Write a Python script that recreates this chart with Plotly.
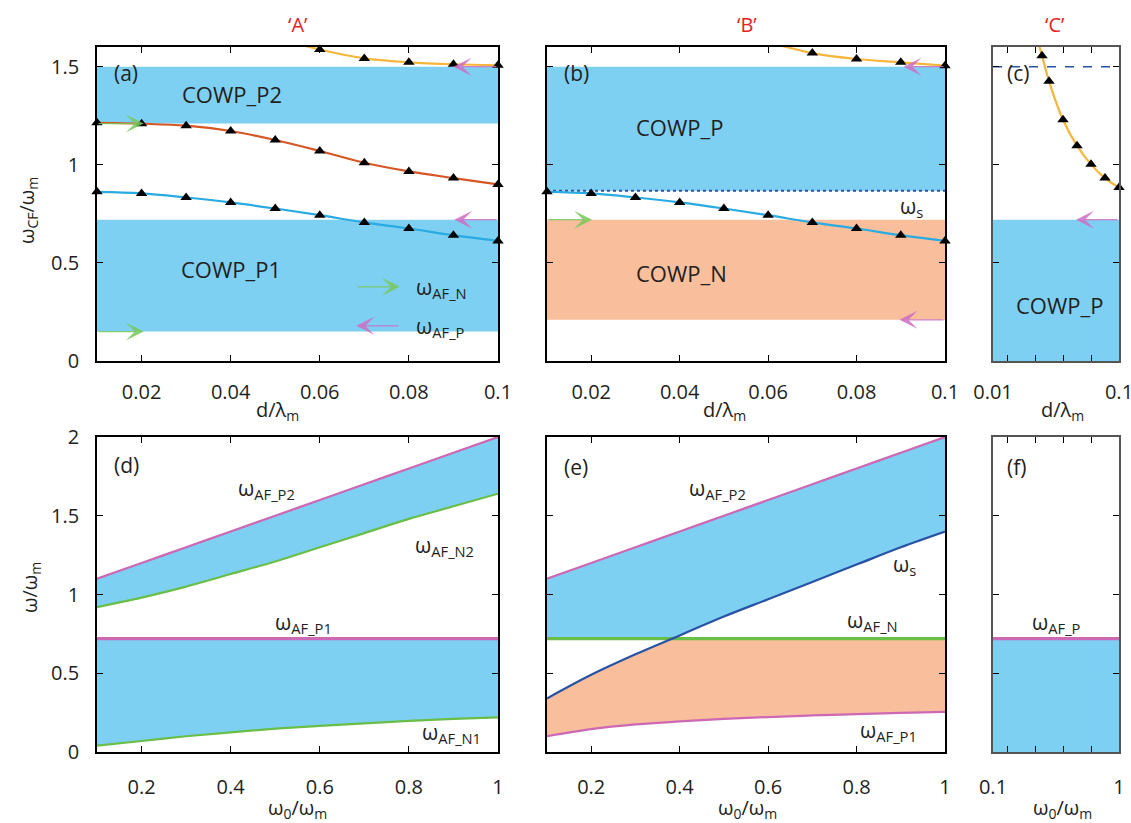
import numpy as np
import plotly.graph_objects as go

# ------------------------------------------------------------------ data
# top row: omega_CF / omega_m versus d / lambda_m
d_vals = [0.01, 0.02, 0.03, 0.04, 0.05, 0.06, 0.07, 0.08, 0.09, 0.10]
wcf_blue = [0.862, 0.854, 0.833, 0.808, 0.777, 0.743, 0.706, 0.675, 0.641, 0.612]
wcf_orange = [1.214, 1.209, 1.199, 1.172, 1.126, 1.070, 1.010, 0.966, 0.932, 0.900]

d_yellow_a = [0.05, 0.06, 0.07, 0.08, 0.09, 0.10]
wcf_yellow_a = [1.65, 1.587, 1.542, 1.522, 1.512, 1.507]
d_yellow_b = [0.06, 0.07, 0.08, 0.09, 0.10]
wcf_yellow_b = [1.625, 1.569, 1.539, 1.522, 1.505]
d_yellow_c = [0.04, 0.045, 0.05, 0.06, 0.07, 0.08, 0.09, 0.10]
wcf_yellow_c = [1.68, 1.556, 1.426, 1.229, 1.097, 1.002, 0.932, 0.884]

d_span = [0.01, 0.10]
band_a_P2 = [1.21, 1.50]
band_a_P1 = [0.15, 0.72]
band_b_P = [0.867, 1.50]
band_b_N = [0.21, 0.72]
band_c_P = [0.0, 0.72]
ws_b = 0.867
dash_c = 1.50

# arrows: (head_x, tail_x, level)
arrows_a_N = [(0.0205, 0.01, 1.21), (0.0205, 0.01, 0.15), (0.078, 0.0682, 0.378)]
arrows_a_P = [(0.090, 0.10, 1.50), (0.0902, 0.10, 0.72), (0.0682, 0.078, 0.179)]
arrows_b_N = [(0.0202, 0.01, 0.72)]
arrows_b_P = [(0.0906, 0.10, 1.50), (0.0897, 0.10, 0.21)]
arrows_c_P = [(0.0693, 0.10, 0.72)]

# bottom row: omega / omega_m versus omega_0 / omega_m
w0 = [0.1, 0.2, 0.3, 0.4, 0.5, 0.6, 0.7, 0.8, 0.9, 1.0]
w_AF_P2 = [1.10, 1.20, 1.30, 1.40, 1.50, 1.60, 1.70, 1.80, 1.90, 2.00]
w_AF_N2_d = [0.92, 0.98, 1.05, 1.13, 1.21, 1.30, 1.39, 1.48, 1.56, 1.64]
w_AF_P1_d = 0.72
w_AF_N1_d = [0.04, 0.07, 0.10, 0.125, 0.148, 0.166, 0.182, 0.197, 0.21, 0.22]
w_s_e = [0.34, 0.49, 0.62, 0.74, 0.86, 0.97, 1.08, 1.19, 1.30, 1.40]
w_AF_N_e = 0.72
w_AF_P1_e = [0.10, 0.145, 0.175, 0.195, 0.21, 0.222, 0.232, 0.241, 0.249, 0.255]
w_AF_P_f = 0.72
w0_span = [0.1, 1.0]

# ------------------------------------------------------------------ style
W, H = 1131, 823
FONT = "Open Sans"
TXT = "#231f20"
C_BAND = "rgb(126,208,243)"
C_SALMON = "rgb(249,190,156)"
C_BLUE = "rgb(41,171,226)"
C_ORANGE = "rgb(214,86,36)"
C_YELLOW = "rgb(246,182,60)"
C_MAG = "rgb(204,104,180)"
C_GREEN = "rgb(104,190,70)"
C_DBLUE = "rgb(40,82,164)"
C_RED = "rgb(232,30,38)"
A_GREEN = "rgba(120,200,90,0.85)"
A_MAG = "rgba(205,110,195,0.85)"

fig = go.Figure()


def px_x(a, b):
    return [a / W, b / W]


def px_y(top, bottom):
    return [1 - bottom / H, 1 - top / H]


def band(xr, yr, xs, lo, hi, color):
    fig.add_trace(go.Scatter(x=[xs[0], xs[1], xs[1], xs[0]], y=[lo, lo, hi, hi],
                             fill="toself", fillcolor=color, mode="none",
                             xaxis=xr, yaxis=yr, hoverinfo="skip"))


def poly(xr, yr, xs, ys, color):
    fig.add_trace(go.Scatter(x=xs, y=ys, fill="toself", fillcolor=color, mode="none",
                             xaxis=xr, yaxis=yr, hoverinfo="skip"))


def line(xr, yr, xs, ys, color, width=2.2, dash="solid", shape="linear"):
    fig.add_trace(go.Scatter(x=xs, y=ys, mode="lines",
                             line=dict(color=color, width=width, dash=dash, shape=shape),
                             xaxis=xr, yaxis=yr, hoverinfo="skip"))


def curve_markers(xr, yr, xs, ys, color, ymax):
    xs = np.asarray(xs)
    ys = np.asarray(ys)
    line(xr, yr, xs, ys, color, shape="spline")
    m = ys <= ymax
    fig.add_trace(go.Scatter(x=xs[m], y=ys[m], mode="markers",
                             marker=dict(symbol="triangle-up", size=10, color="black"),
                             cliponaxis=False, xaxis=xr, yaxis=yr, hoverinfo="skip"))


def arrow(xr, yr, specs, color):
    for head, tail, lev in specs:
        fig.add_annotation(x=head, y=lev, ax=tail, ay=lev, xref=xr, yref=yr,
                           axref=xr, ayref=yr, showarrow=True, arrowhead=3,
                           arrowsize=2.5, arrowwidth=1.2, arrowcolor=color, text="")


def label(xr, yr, x, y, text, size=21, xanchor="center"):
    fig.add_annotation(x=x, y=y, xref=xr, yref=yr, text=text, showarrow=False,
                       xanchor=xanchor, yanchor="middle",
                       font=dict(family=FONT, size=size, color=TXT))


# ---------------- panel (a)
band("x", "y", d_span, band_a_P2[0], band_a_P2[1], C_BAND)
band("x", "y", d_span, band_a_P1[0], band_a_P1[1], C_BAND)
curve_markers("x", "y", d_yellow_a, wcf_yellow_a, C_YELLOW, 1.6)
curve_markers("x", "y", d_vals, wcf_orange, C_ORANGE, 1.6)
curve_markers("x", "y", d_vals, wcf_blue, C_BLUE, 1.6)
arrow("x", "y", arrows_a_N, A_GREEN)
arrow("x", "y", arrows_a_P, A_MAG)
label("x", "y", 0.0164, 1.47, "(a)")
label("x", "y", 0.0402, 1.36, "COWP_P2", 22)
label("x", "y", 0.040, 0.471, "COWP_P1", 22)
label("x", "y", 0.0812, 0.37, "ω<sub>AF_N</sub>", 21, "left")
label("x", "y", 0.0812, 0.175, "ω<sub>AF_P</sub>", 21, "left")

# ---------------- panel (b)
band("x2", "y2", d_span, band_b_P[0], band_b_P[1], C_BAND)
band("x2", "y2", d_span, band_b_N[0], band_b_N[1], C_SALMON)
line("x2", "y2", d_span, [ws_b, ws_b], C_DBLUE, width=2, dash="dot")
curve_markers("x2", "y2", d_yellow_b, wcf_yellow_b, C_YELLOW, 1.6)
curve_markers("x2", "y2", d_vals, wcf_blue, C_BLUE, 1.6)
arrow("x2", "y2", arrows_b_N, A_GREEN)
arrow("x2", "y2", arrows_b_P, A_MAG)
label("x2", "y2", 0.0167, 1.47, "(b)")
label("x2", "y2", 0.040, 1.194, "COWP_P", 22)
label("x2", "y2", 0.0405, 0.449, "COWP_N", 22)
label("x2", "y2", 0.0893, 0.785, "ω<sub>s</sub>", 21, "left")

# ---------------- panel (c)
band("x3", "y3", d_span, band_c_P[0], band_c_P[1], C_BAND)
line("x3", "y3", d_span, [dash_c, dash_c], C_DBLUE, width=1.5, dash="dash")
curve_markers("x3", "y3", d_yellow_c, wcf_yellow_c, C_YELLOW, 1.6)
arrow("x3", "y3", arrows_c_P, A_MAG)
label("x3", "y3", 0.0282, 1.465, "(c)")
label("x3", "y3", 0.0577, 0.285, "COWP_P", 22)

# ---------------- panel (d)
w0a = np.asarray(w0)
poly("x4", "y4", list(w0a) + list(w0a[::-1]), list(w_AF_N2_d) + list(w_AF_P2[::-1]), C_BAND)
poly("x4", "y4", list(w0a) + list(w0a[::-1]),
     list(w_AF_N1_d) + [w_AF_P1_d] * len(w0), C_BAND)
line("x4", "y4", w0, w_AF_P2, C_MAG, shape="spline")
line("x4", "y4", w0, w_AF_N2_d, C_GREEN, shape="spline")
line("x4", "y4", w0_span, [w_AF_P1_d, w_AF_P1_d], C_MAG, width=3.2)
line("x4", "y4", w0, w_AF_N1_d, C_GREEN, shape="spline")
label("x4", "y4", 0.167, 1.82, "(d)")
label("x4", "y4", 0.481, 1.67, "ω<sub>AF_P2</sub>")
label("x4", "y4", 0.879, 1.31, "ω<sub>AF_N2</sub>")
label("x4", "y4", 0.563, 0.82, "ω<sub>AF_P1</sub>")
label("x4", "y4", 0.895, 0.12, "ω<sub>AF_N1</sub>")

# ---------------- panel (e)
ws = np.asarray(w_s_e)
xc = float(np.interp(w_AF_N_e, ws, w0a))
left = w0a < xc
right = w0a > xc
x_mid = list(w0a[left]) + [xc] + list(w0a[right])
y_blue_lo = [w_AF_N_e] * int(left.sum()) + [w_AF_N_e] + list(ws[right])
y_sal_hi = list(ws[left]) + [w_AF_N_e] + [w_AF_N_e] * int(right.sum())
poly("x5", "y5", x_mid + list(w0a[::-1]), y_blue_lo + list(w_AF_P2[::-1]), C_BAND)
poly("x5", "y5", x_mid + list(w0a[::-1]), y_sal_hi + list(w_AF_P1_e[::-1]), C_SALMON)
line("x5", "y5", w0, w_AF_P2, C_MAG, shape="spline")
line("x5", "y5", w0_span, [w_AF_N_e, w_AF_N_e], C_GREEN, width=3.2)
line("x5", "y5", w0, w_s_e, C_DBLUE, shape="spline")
line("x5", "y5", w0, w_AF_P1_e, C_MAG, shape="spline")
label("x5", "y5", 0.165, 1.81, "(e)")
label("x5", "y5", 0.486, 1.67, "ω<sub>AF_P2</sub>")
label("x5", "y5", 0.909, 1.185, "ω<sub>s</sub>")
label("x5", "y5", 0.835, 0.83, "ω<sub>AF_N</sub>")
label("x5", "y5", 0.872, 0.133, "ω<sub>AF_P1</sub>")

# ---------------- panel (f)
band("x6", "y6", w0_span, 0.0, w_AF_P_f, C_BAND)
line("x6", "y6", w0_span, [w_AF_P_f, w_AF_P_f], C_MAG, width=3.2)
label("x6", "y6", 0.269, 1.81, "(f)")
label("x6", "y6", 0.556, 0.817, "ω<sub>AF_P</sub>")

# ------------------------------------------------------------------ axes
def axis(domain, anchor, rng, tickvals, ticktext=None, labels=True, lc="black", standoff=10):
    d = dict(domain=domain, anchor=anchor, range=rng, showline=True, linecolor=lc,
             linewidth=1.6, mirror="ticks", ticks="inside", ticklen=6, tickwidth=1.2,
             tickcolor="black", showgrid=False, zeroline=False, tickvals=tickvals,
             showticklabels=labels, ticklabelstandoff=standoff, automargin=False,
             ticklabeloverflow="allow",
             tickfont=dict(family=FONT, size=20, color=TXT))
    if ticktext is not None:
        d["ticktext"] = ticktext
    return d


XA, XB, XC = px_x(97, 498), px_x(547, 945), px_x(993, 1119)
YT, YB = px_y(47, 361), px_y(437, 752)
xt_top = [0.02, 0.04, 0.06, 0.08, 0.1]
xt_topc = [0.01, 0.02, 0.04, 0.06, 0.08, 0.1]
xt_bot = [0.2, 0.4, 0.6, 0.8, 1.0]
xt_botf = [0.1, 0.2, 0.4, 0.6, 0.8, 1.0]
yt_top = [0, 0.5, 1, 1.5]
yt_bot = [0, 0.5, 1, 1.5, 2]

fig.update_layout(
    xaxis=axis(XA, "y", [0.01, 0.1], xt_top, ["0.02", "0.04", "0.06", "0.08", "0.1"], standoff=12),
    yaxis=axis(YT, "x", [0, 1.6], yt_top, ["0", "0.5", "1", "1.5"], standoff=12),
    xaxis2=axis(XB, "y2", [0.01, 0.1], xt_top, ["0.02", "0.04", "0.06", "0.08", "0.1"], standoff=12),
    yaxis2=axis(YT, "x2", [0, 1.6], yt_top, labels=False),
    xaxis3=axis(XC, "y3", [0.01, 0.1], xt_topc, ["0.01", "", "", "", "", "0.1"], lc="#555", standoff=12),
    yaxis3=axis(YT, "x3", [0, 1.6], yt_top, labels=False, lc="#555"),
    xaxis4=axis(XA, "y4", [0.1, 1.0], xt_bot, ["0.2", "0.4", "0.6", "0.8", "1"], standoff=16),
    yaxis4=axis(YB, "x4", [0, 2], yt_bot, ["0", "0.5", "1", "1.5", "2"], standoff=12),
    xaxis5=axis(XB, "y5", [0.1, 1.0], xt_bot, ["0.2", "0.4", "0.6", "0.8", "1"], standoff=16),
    yaxis5=axis(YB, "x5", [0, 2], yt_bot, labels=False),
    xaxis6=axis(XC, "y6", [0.1, 1.0], xt_botf, ["0.1", "", "", "", "", "1"], lc="#555", standoff=16),
    yaxis6=axis(YB, "x6", [0, 2], yt_bot, labels=False, lc="#555"),
)


def paper_text(xpx, ypx, text, size=20, color=TXT, angle=0):
    fig.add_annotation(x=xpx / W, y=1 - ypx / H, xref="paper", yref="paper", text=text,
                       showarrow=False, xanchor="center", yanchor="middle", textangle=angle,
                       font=dict(family=FONT, size=size, color=color))


paper_text(298, 24, "‘A’", 20, C_RED)
paper_text(747, 24, "‘B’", 20, C_RED)
paper_text(1055, 24, "‘C’", 20, C_RED)
for xp in (277, 724, 1062):
    paper_text(xp, 410, "d/λ<sub>m</sub>")
for xp in (297, 747, 1062):
    paper_text(xp, 808, "ω<sub>0</sub>/ω<sub>m</sub>")
paper_text(28, 211, "ω<sub>CF</sub>/ω<sub>m</sub>", angle=-90)
paper_text(30, 588, "ω/ω<sub>m</sub>", angle=-90)

fig.update_layout(width=W, height=H,
                  margin=dict(l=0, r=0, t=0, b=0, pad=0, autoexpand=False),
                  paper_bgcolor="white", plot_bgcolor="white", showlegend=False)

fig.write_html("out.html")
